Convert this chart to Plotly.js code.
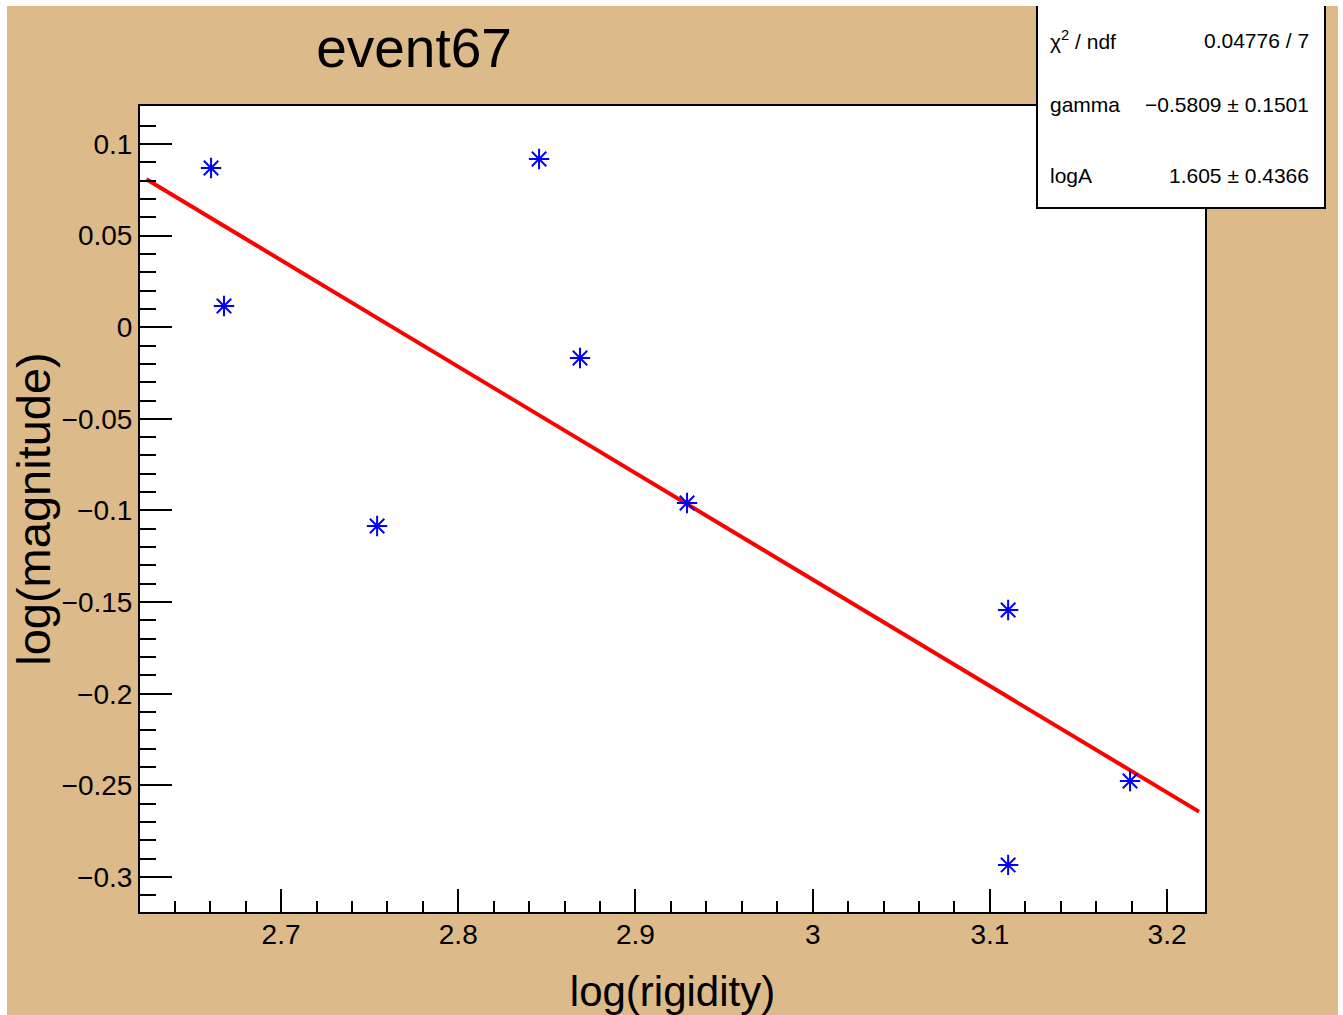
<!DOCTYPE html>
<html>
<head>
<meta charset="utf-8">
<script src="https://cdn.plot.ly/plotly-3.0.1.min.js"></script>
<style>
html,body{margin:0;padding:0;background:#ffffff;}
#chart{position:absolute;left:7px;top:6px;width:1331px;height:1009px;}
</style>
</head>
<body>
<div id="chart"></div>
<script>
// ---- data ----
const logRigidity = [2.6605, 2.6678, 2.7542, 2.8456, 2.8687, 2.9291, 3.1103, 3.1103, 3.1791];
const logMagnitude = [0.0869, 0.0116, -0.1085, 0.0918, -0.0168, -0.0959, -0.1543, -0.2934, -0.2476];
const fitGamma = -0.5809;
const fitLogA = 1.605;
const fitRange = [2.624, 3.218];
const xTickVals = [2.7, 2.8, 2.9, 3.0, 3.1, 3.2];
const xTickText = ["2.7", "2.8", "2.9", "3", "3.1", "3.2"];
const yTickVals = [0.1, 0.05, 0, -0.05, -0.1, -0.15, -0.2, -0.25, -0.3];
const yTickText = ["0.1", "0.05", "0", "\u22120.05", "\u22120.1", "\u22120.15", "\u22120.2", "\u22120.25", "\u22120.3"];
const statLabels = ["\u03c7<sup>2</sup> / ndf", "gamma", "logA"];
const statValues = ["0.04776 / 7", "\u22120.5809 \u00b1 0.1501", "1.605 \u00b1 0.4366"];

// ---- axis ranges and minor tick positions (inner ticks only, like ROOT) ----
const xRange = [2.6204, 3.2214];
const yRange = [-0.3191, 0.1207];
function innerTicks(range, step) {
  const out = [];
  const start = Math.ceil(range[0] / step - 1e-9);
  const end = Math.floor(range[1] / step + 1e-9);
  for (let k = start; k <= end; k++) {
    const v = +(k * step).toFixed(6);
    if (v - range[0] > step * 0.3 && range[1] - v > step * 0.3) out.push(v);
  }
  return out;
}
const xMinor = innerTicks(xRange, 0.02);
const yMinor = innerTicks(yRange, 0.01);

// ---- layout helpers (pixel positions inside the chart div) ----
const W = 1331, H = 1009;
const M = {l: 133, r: 133, t: 100, b: 103};
const PW = W - M.l - M.r, PH = H - M.t - M.b;
const px = x => (x - M.l) / PW;
const py = y => (H - M.b - y) / PH;

const fitX = fitRange.slice();
const fitY = fitX.map(x => fitLogA + fitGamma * x);

const FONT = "Liberation Sans, Arial, Helvetica, sans-serif";
const TAN = "#dcba89";

const traces = [
  {
    x: fitX, y: fitY, type: "scatter", mode: "lines",
    line: {color: "#ff0000", width: 4}, hoverinfo: "skip", showlegend: false
  },
  {
    x: logRigidity, y: logMagnitude, type: "scatter", mode: "markers",
    marker: {symbol: "asterisk-open", size: 17, color: "#0000ff", line: {color: "#0000ff", width: 2}},
    showlegend: false
  }
];

const annotations = [];
const rowsY = [34, 98, 169];
statLabels.forEach((t, i) => {
  annotations.push({xref: "paper", yref: "paper", x: px(1041), y: py(rowsY[i]), xanchor: "left", yanchor: "middle",
    text: t, showarrow: false, font: {family: FONT, size: 21, color: "#000"}});
  annotations.push({xref: "paper", yref: "paper", x: px(1304), y: py(rowsY[i]), xanchor: "right", yanchor: "middle",
    text: statValues[i], showarrow: false, font: {family: FONT, size: 21, color: "#000"}});
});

const layout = {
  width: W, height: H,
  paper_bgcolor: TAN, plot_bgcolor: "#ffffff",
  margin: M,
  showlegend: false,
  title: {text: "event67", x: 407 / W, xanchor: "center", y: 1 - 42 / H, yanchor: "middle",
    xref: "container", yref: "container", font: {family: FONT, size: 55, color: "#000"}},
  xaxis: {
    range: xRange, tickmode: "array", tickvals: xTickVals, ticktext: xTickText,
    ticks: "inside", ticklen: 23, tickwidth: 2, tickcolor: "#000",
    minor: {tickmode: "array", tickvals: xMinor, ticks: "inside", ticklen: 11, tickwidth: 2, tickcolor: "#000", showgrid: false},
    showline: true, linecolor: "#000", linewidth: 2, mirror: true,
    showgrid: false, zeroline: false,
    tickfont: {family: FONT, size: 28, color: "#000"}, ticklabelstandoff: -4,
    title: {text: "log(rigidity)", font: {family: FONT, size: 42, color: "#000"}, standoff: 28}
  },
  yaxis: {
    range: yRange, tickmode: "array", tickvals: yTickVals, ticktext: yTickText,
    ticks: "inside", ticklen: 32, tickwidth: 2, tickcolor: "#000",
    minor: {tickmode: "array", tickvals: yMinor, ticks: "inside", ticklen: 16, tickwidth: 2, tickcolor: "#000", showgrid: false},
    showline: true, linecolor: "#000", linewidth: 2, mirror: true,
    showgrid: false, zeroline: false,
    tickfont: {family: FONT, size: 28, color: "#000"}, ticklabelstandoff: 0,
    title: {text: "log(magnitude)", font: {family: FONT, size: 47, color: "#000"}, standoff: 25}
  },
  shapes: [
    {type: "rect", xref: "paper", yref: "paper", x0: px(1030), x1: px(1318), y0: py(202), y1: py(-1),
      fillcolor: "#ffffff", line: {color: "#000", width: 2}, layer: "above"}
  ],
  annotations: annotations
};

Plotly.newPlot("chart", traces, layout, {displayModeBar: false, staticPlot: true});
</script>
</body>
</html>
